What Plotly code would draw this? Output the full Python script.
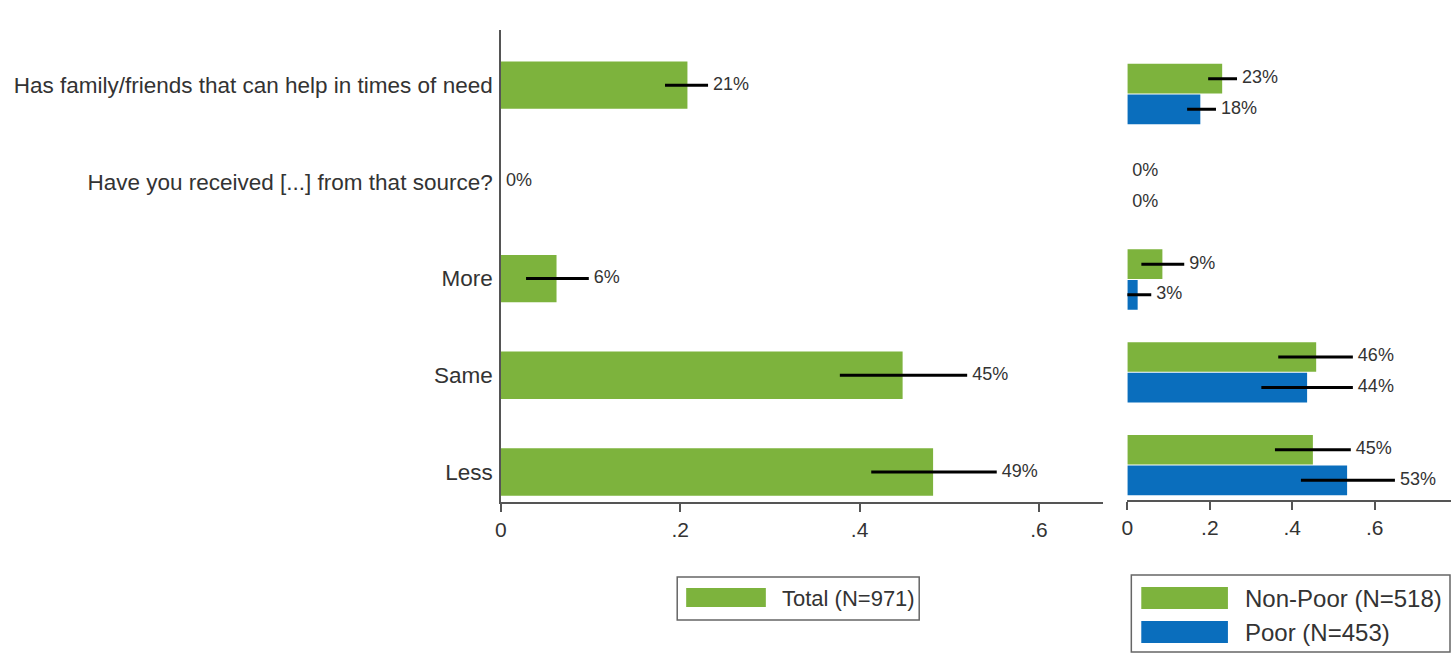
import plotly.graph_objects as go

W, H = 1451, 655

categories = ["Has family/friends that can help in times of need",
              "Have you received [...] from that source?",
              "More", "Same", "Less"]

total_val = [0.208, 0.0, 0.062, 0.448, 0.482]
total_lo = [0.183, 0.0, 0.028, 0.378, 0.413]
total_hi = [0.231, 0.0, 0.098, 0.520, 0.553]
total_lbl = ["21%", "0%", "6%", "45%", "49%"]

nonpoor_val = [0.230, 0.0, 0.085, 0.458, 0.450]
nonpoor_lo = [0.196, 0.0, 0.034, 0.366, 0.358]
nonpoor_hi = [0.266, 0.0, 0.138, 0.547, 0.542]
nonpoor_lbl = ["23%", "0%", "9%", "46%", "45%"]

poor_val = [0.177, 0.0, 0.025, 0.436, 0.533]
poor_lo = [0.145, 0.0, -0.010, 0.325, 0.421]
poor_hi = [0.215, 0.0, 0.058, 0.547, 0.649]
poor_lbl = ["18%", "0%", "3%", "44%", "53%"]

names = ["Total (N=971)", "Non-Poor (N=518)", "Poor (N=453)"]
xticks = [0, 0.2, 0.4, 0.6]
xticktext = ["0", ".2", ".4", ".6"]

GREEN = "#7db33d"
BLUE = "#0a6ebd"
TXT = "#333333"
AX = "#555555"
FONT = "Liberation Sans, Arial, sans-serif"


def px(x):
    return x / W


def py(y):
    return 1 - y / H


def err(val, lo, hi):
    return dict(type="data", symmetric=False,
                array=[h - v for v, h in zip(val, hi)],
                arrayminus=[v - l for v, l in zip(val, lo)],
                color="black", thickness=3, width=0)


pos = list(range(len(categories)))
off = 0.165
pos_np = [p - off for p in pos]
pos_p = [p + off for p in pos]

fig = go.Figure()

# left panel: total
fig.add_trace(go.Bar(x=total_val, y=pos, orientation="h", width=0.49,
                     marker=dict(color=GREEN, line=dict(width=0)),
                     error_x=err(total_val, total_lo, total_hi),
                     name=names[0], xaxis="x", yaxis="y"))
fig.add_trace(go.Scatter(x=total_hi, y=pos, mode="text", text=total_lbl,
                         texttemplate=" %{text}",
                         textposition="middle right", cliponaxis=False,
                         textfont=dict(size=18, color=TXT, family=FONT),
                         xaxis="x", yaxis="y", hoverinfo="skip"))

# right panel: non-poor / poor
for val, lo, hi, lbl, yy, col, nm in [
        (nonpoor_val, nonpoor_lo, nonpoor_hi, nonpoor_lbl, pos_np, GREEN, names[1]),
        (poor_val, poor_lo, poor_hi, poor_lbl, pos_p, BLUE, names[2])]:
    fig.add_trace(go.Bar(x=val, y=yy, orientation="h", width=0.32,
                         marker=dict(color=col, line=dict(width=0)),
                         error_x=err(val, lo, hi),
                         name=nm, xaxis="x2", yaxis="y2"))
    fig.add_trace(go.Scatter(x=[max(h, 0) for h in hi], y=yy, mode="text", text=lbl,
                             texttemplate=" %{text}",
                             textposition="middle right", cliponaxis=False,
                             textfont=dict(size=18, color=TXT, family=FONT),
                             xaxis="x2", yaxis="y2", hoverinfo="skip"))

axis_common = dict(showgrid=False, zeroline=False, showline=True, linecolor=AX,
                   linewidth=1.5, tickfont=dict(size=21, color=TXT, family=FONT))

fig.update_layout(
    width=W, height=H,
    margin=dict(l=0, r=0, t=0, b=0),
    paper_bgcolor="white", plot_bgcolor="white",
    showlegend=False, barmode="overlay",
    font=dict(family=FONT, color=TXT),
    xaxis=dict(domain=[px(497), px(1102)], range=[0, 0.672], anchor="y",
               tickvals=xticks, ticktext=xticktext, ticks="outside",
               ticklen=8, tickcolor=AX, tickwidth=1.5, **axis_common),
    yaxis=dict(domain=[py(502), py(30)], range=[4.31, -0.57], anchor="x",
               tickvals=pos, ticktext=categories, ticks="",
               ticklabelstandoff=2, showgrid=False, zeroline=False, showline=True,
               linecolor=AX, linewidth=1.5,
               tickfont=dict(size=22.5, color=TXT, family=FONT)),
    xaxis2=dict(domain=[px(1126), 1.0], range=[0, 0.785], anchor="y2",
                tickvals=xticks, ticktext=xticktext, ticks="outside",
                ticklen=8, tickcolor=AX, tickwidth=1.5, **axis_common),
    yaxis2=dict(domain=[py(500), py(30)], range=[4.377, -0.69], anchor="x2",
                showticklabels=False, showline=False, showgrid=False, zeroline=False),
)

# legends drawn as boxes with swatches
shapes = [
    dict(type="rect", xref="paper", yref="paper", x0=px(674), x1=px(917), y0=py(620), y1=py(577),
         line=dict(color="#666666", width=1.5), fillcolor="white"),
    dict(type="rect", xref="paper", yref="paper", x0=px(683), x1=px(763), y0=py(607), y1=py(588),
         line=dict(width=0), fillcolor=GREEN),
    dict(type="rect", xref="paper", yref="paper", x0=px(1130), x1=px(1450), y0=py(652), y1=py(575),
         line=dict(color="#666666", width=1.5), fillcolor="white"),
    dict(type="rect", xref="paper", yref="paper", x0=px(1140), x1=px(1227), y0=py(609), y1=py(587),
         line=dict(width=0), fillcolor=GREEN),
    dict(type="rect", xref="paper", yref="paper", x0=px(1140), x1=px(1227), y0=py(643), y1=py(621),
         line=dict(width=0), fillcolor=BLUE),
]
annotations = [
    dict(text=names[0], x=px(777), y=py(598), xref="paper", yref="paper",
         xanchor="left", yanchor="middle", showarrow=False,
         font=dict(size=22, color=TXT, family=FONT)),
    dict(text=names[1], x=px(1242), y=py(598), xref="paper", yref="paper",
         xanchor="left", yanchor="middle", showarrow=False,
         font=dict(size=24, color=TXT, family=FONT)),
    dict(text=names[2], x=px(1242), y=py(632), xref="paper", yref="paper",
         xanchor="left", yanchor="middle", showarrow=False,
         font=dict(size=24, color=TXT, family=FONT)),
]
fig.update_layout(shapes=shapes, annotations=annotations)

fig.write_html("out.html", config={"displayModeBar": False},
               post_script="document.body.style.margin='0';")
